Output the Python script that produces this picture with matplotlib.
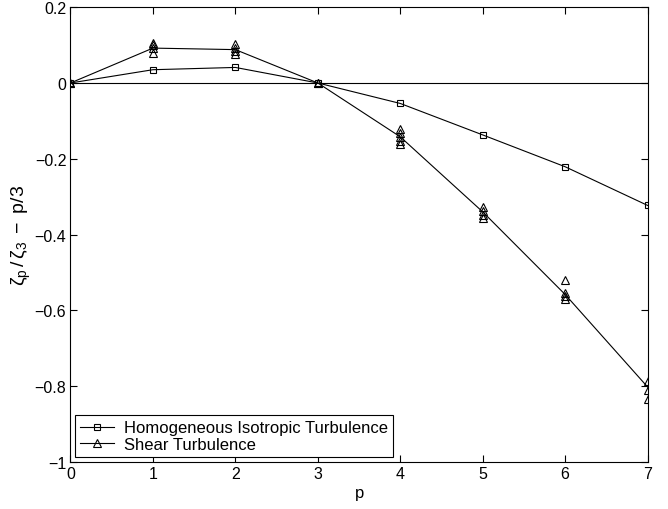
import matplotlib
matplotlib.use("Agg")
from matplotlib import pyplot as plt
from matplotlib.lines import Line2D

plt.rcParams['font.family'] = ['Liberation Sans', 'DejaVu Sans']
plt.rcParams['mathtext.fontset'] = 'custom'
plt.rcParams['mathtext.rm'] = 'Liberation Sans'
plt.rcParams['mathtext.it'] = 'Liberation Sans'

# Homogeneous isotropic turbulence
p_hit = [0, 1, 2, 3, 4, 5, 6, 7]
zeta_hit = [0, 0.035, 0.041, 0, -0.054, -0.137, -0.221, -0.323]

# Shear turbulence, line through the mean values
p_shear = [0, 1, 2, 3, 4, 5, 6, 7]
zeta_shear_mean = [0, 0.092, 0.088, 0, -0.142, -0.340, -0.558, -0.802]

# Shear turbulence, individual samples
p_samples = [0, 0, 1, 1, 1, 1, 2, 2, 2, 2, 3, 3,
             4, 4, 4, 4, 4, 5, 5, 5, 5, 6, 6, 6, 6, 7, 7, 7]
zeta_samples = [0, 0, 0.106, 0.099, 0.092, 0.080, 0.103, 0.092, 0.085, 0.076, 0, 0,
                -0.122, -0.132, -0.142, -0.152, -0.160, -0.328, -0.338, -0.347, -0.356,
                -0.520, -0.555, -0.563, -0.571, -0.787, -0.810, -0.834]

y_ticks = [-1, -0.8, -0.6, -0.4, -0.2, 0, 0.2]
y_tick_labels = ['\u22121', '\u22120.8', '\u22120.6', '\u22120.4', '\u22120.2', '0', '0.2']

fig = plt.figure(figsize=(6.68, 5.10), dpi=100)
ax = fig.add_axes([0.1055, 0.092, 0.864, 0.892])

ax.axhline(0, color='black', linewidth=0.8)
ax.plot(p_hit, zeta_hit, 'k-', marker='s', markersize=5, markerfacecolor='none',
        markeredgewidth=0.8, linewidth=0.8)
ax.plot(p_shear, zeta_shear_mean, 'k-', linewidth=0.8)
ax.plot(p_samples, zeta_samples, linestyle='none', marker='^', markersize=6,
        markerfacecolor='none', markeredgecolor='black', markeredgewidth=0.8)

ax.set_xlim(0, 7)
ax.set_ylim(-1, 0.2)
ax.set_xticks(range(8))
ax.set_yticks(y_ticks)
ax.set_yticklabels(y_tick_labels)
ax.tick_params(direction='in', top=True, right=True, labelsize=11.5, length=5, pad=3)
for spine in ax.spines.values():
    spine.set_linewidth(0.8)

ax.set_xlabel('p', fontsize=12, labelpad=3)
ax.set_ylabel(r'$\zeta_p\,/\,\zeta_3\ -\ p/3$', fontsize=14, labelpad=1)

handles = [
    Line2D([], [], color='black', linewidth=0.8, marker='s', markersize=5,
           markerfacecolor='none', markeredgewidth=0.8),
    Line2D([], [], color='black', linewidth=0.8, marker='^', markersize=6,
           markerfacecolor='none', markeredgewidth=0.8),
]
leg = ax.legend(handles, ['Homogeneous Isotropic Turbulence', 'Shear Turbulence'],
                loc='lower left', fontsize=12, fancybox=False, edgecolor='black',
                framealpha=1, borderaxespad=0.3, handlelength=2.0,
                labelspacing=0.1, borderpad=0.3, handletextpad=0.6)
leg.get_frame().set_linewidth(0.8)

fig.savefig('out.png', dpi=100)
